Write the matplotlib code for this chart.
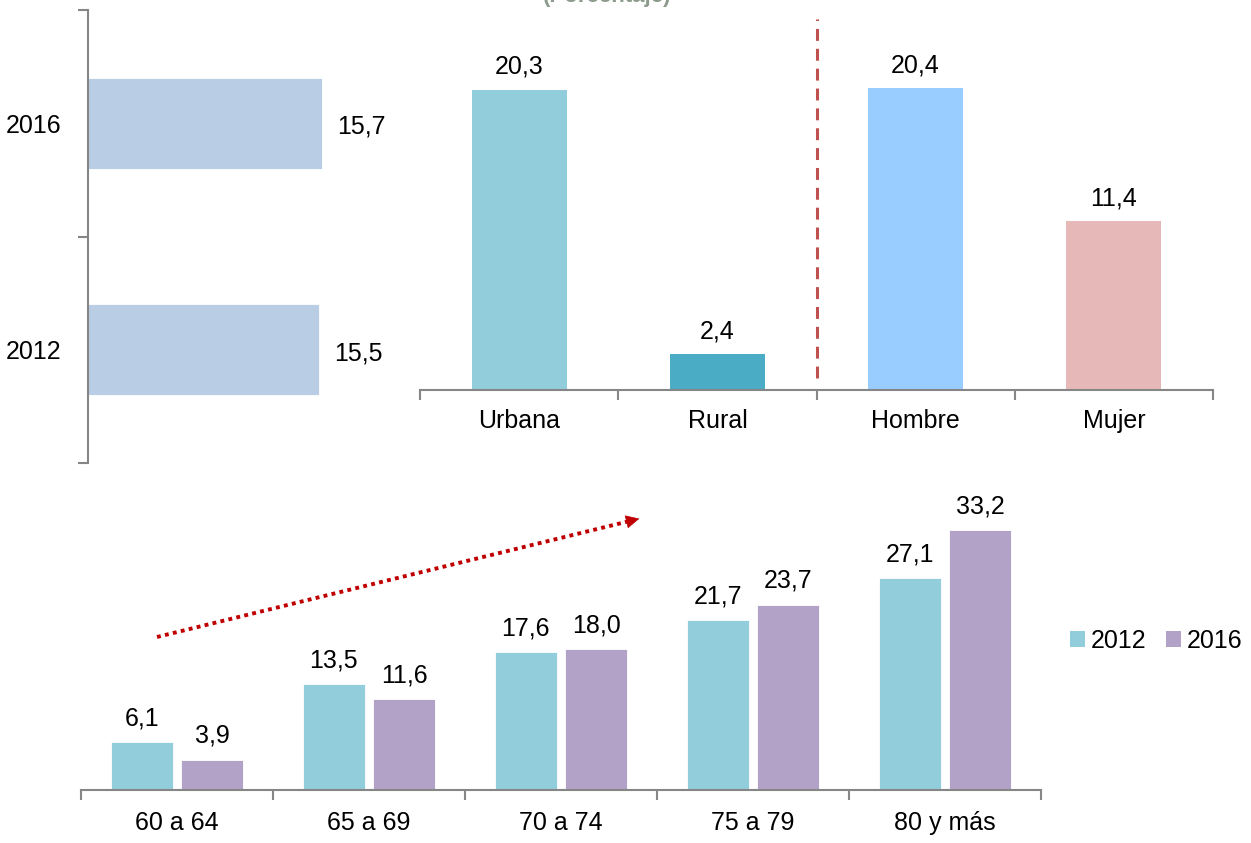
import matplotlib
matplotlib.use("Agg")
import matplotlib.pyplot as plt
from matplotlib.lines import Line2D
from matplotlib.patches import Patch, FancyArrowPatch

plt.rcParams['font.family'] = ['Liberation Sans', 'DejaVu Sans']

# ---- data ----
years = ['2012', '2016']
overall = [15.5, 15.7]

area_cats = ['Urbana', 'Rural', 'Hombre', 'Mujer']
area_vals = [20.3, 2.4, 20.4, 11.4]

age_cats = ['60 a 64', '65 a 69', '70 a 74', '75 a 79', '80 y más']
age_2012 = [6.1, 13.5, 17.6, 21.7, 27.1]
age_2016 = [3.9, 11.6, 18.0, 23.7, 33.2]

title = '(Porcentaje)'

def fmt(v):
    return f"{v:.1f}".replace('.', ',')

W, H = 1251, 843
fig = plt.figure(figsize=(W / 100, H / 100), dpi=100)
FS = 18
GRAY = '#868686'

def frac(x0, y0, x1, y1):
    # pixel box (top-left origin) -> figure fraction rect
    return [x0 / W, (H - y1) / H, (x1 - x0) / W, (y1 - y0) / H]

# ---- left panel: overall by year ----
axL = fig.add_axes(frac(88, 10, 400, 463))
ypos = list(range(len(years)))
axL.barh(ypos, overall, height=0.4, color='#B9CDE5', edgecolor='white', linewidth=0.6)
axL.set_ylim(-0.5, 1.5)
axL.set_xlim(0, 312 / 14.9)
for y, v in zip(ypos, overall):
    axL.annotate(fmt(v), (v, y), xytext=(11, -7.5), textcoords='offset points',
                 ha='left', va='baseline', fontsize=FS)
for s in ['top', 'right', 'bottom']:
    axL.spines[s].set_visible(False)
axL.spines['left'].set_color(GRAY)
axL.spines['left'].set_linewidth(1.5)
axL.set_xticks([])
axL.set_yticks(ypos)
axL.set_yticklabels(years, fontsize=FS)
axL.tick_params(axis='y', which='major', length=0, pad=19)
axL.set_yticks([-0.5, 0.5, 1.5], minor=True)
axL.tick_params(axis='y', which='minor', length=7, width=1.5, color=GRAY)

# ---- top-right panel: area and sex ----
axT = fig.add_axes(frac(420, 10, 1213, 390))
colors_T = ['#92CDDC', '#4BACC6', '#99CCFF', '#E6B9B8']
xT = list(range(len(area_cats)))
axT.bar(xT, area_vals, width=0.48, color=colors_T)
axT.set_xlim(-0.5, len(area_cats) - 0.5)
axT.set_ylim(0, 380 / 14.8)
for x, v in zip(xT, area_vals):
    axT.annotate(fmt(v), (x, v), xytext=(0, 11.5), textcoords='offset points',
                 ha='center', va='baseline', fontsize=FS)
axT.plot([1.5, 1.5], [0.8, 25.1], color='#C0504D', lw=2.2,
         linestyle=(0, (3.9, 2.6)), solid_capstyle='butt')
for s in ['top', 'right', 'left']:
    axT.spines[s].set_visible(False)
axT.spines['bottom'].set_color(GRAY)
axT.spines['bottom'].set_linewidth(1.5)
axT.set_yticks([])
axT.set_xticks(xT)
axT.set_xticklabels(area_cats, fontsize=FS)
axT.tick_params(axis='x', which='major', length=0, pad=14)
axT.set_xticks([i - 0.5 for i in range(len(area_cats) + 1)], minor=True)
axT.tick_params(axis='x', which='minor', length=7, width=1.5, color=GRAY)

# ---- bottom panel: age groups ----
axB = fig.add_axes(frac(81, 470, 1041, 790))
xB = list(range(len(age_cats)))
off, bw = 0.184, 0.322
axB.bar([x - off for x in xB], age_2012, width=bw, color='#92CDDC', edgecolor='white', linewidth=0.6)
axB.bar([x + off for x in xB], age_2016, width=bw, color='#B2A2C7', edgecolor='white', linewidth=0.6)
axB.set_xlim(-0.5, len(age_cats) - 0.5)
axB.set_ylim(0, 320 / 7.82)
for x, v in zip(xB, age_2012):
    axB.annotate(fmt(v), (x - off, v), xytext=(0, 12), textcoords='offset points',
                 ha='center', va='baseline', fontsize=FS)
for x, v in zip(xB, age_2016):
    axB.annotate(fmt(v), (x + off, v), xytext=(0, 12), textcoords='offset points',
                 ha='center', va='baseline', fontsize=FS)
for s in ['top', 'right', 'left']:
    axB.spines[s].set_visible(False)
axB.spines['bottom'].set_color(GRAY)
axB.spines['bottom'].set_linewidth(1.5)
axB.set_yticks([])
axB.set_xticks(xB)
axB.set_xticklabels(age_cats, fontsize=FS)
axB.tick_params(axis='x', which='major', length=0, pad=15)
axB.set_xticks([i - 0.5 for i in range(len(age_cats) + 1)], minor=True)
axB.tick_params(axis='x', which='minor', length=7, width=1.5, color=GRAY)

handles = [Patch(facecolor='#92CDDC', edgecolor='none', label=years[0]),
           Patch(facecolor='#B2A2C7', edgecolor='none', label=years[1])]
fig.legend(handles=handles, loc='center left', bbox_to_anchor=(1070 / W, (H - 641) / H),
           ncol=2, frameon=False, fontsize=FS, handlelength=0.6, handleheight=0.6,
           handletextpad=0.25, columnspacing=0.75, borderpad=0, borderaxespad=0)

# ---- dotted trend arrow ----
x0, y0 = 157 / W, (H - 637) / H
x1, y1 = 642 / W, (H - 518) / H
fig.add_artist(Line2D([x0, x1 - (x1 - x0) * 0.02], [y0, y1 - (y1 - y0) * 0.02],
                      transform=fig.transFigure, color='#C00000', lw=2.8,
                      linestyle=(0, (1, 1.1))))
fig.add_artist(FancyArrowPatch(
    (x1 - (x1 - x0) * 0.04, y1 - (y1 - y0) * 0.04), (x1, y1),
    transform=fig.transFigure, arrowstyle='-|>', mutation_scale=22,
    color='#C00000', lw=0.5))

# ---- clipped title (cut at the top edge, as in the reference) ----
fig.text(607 / W, (H - 2) / H, title, ha='center', va='baseline',
         fontsize=16, fontweight='bold', color='#8C9B8C')

fig.savefig('out.png', dpi=100)
